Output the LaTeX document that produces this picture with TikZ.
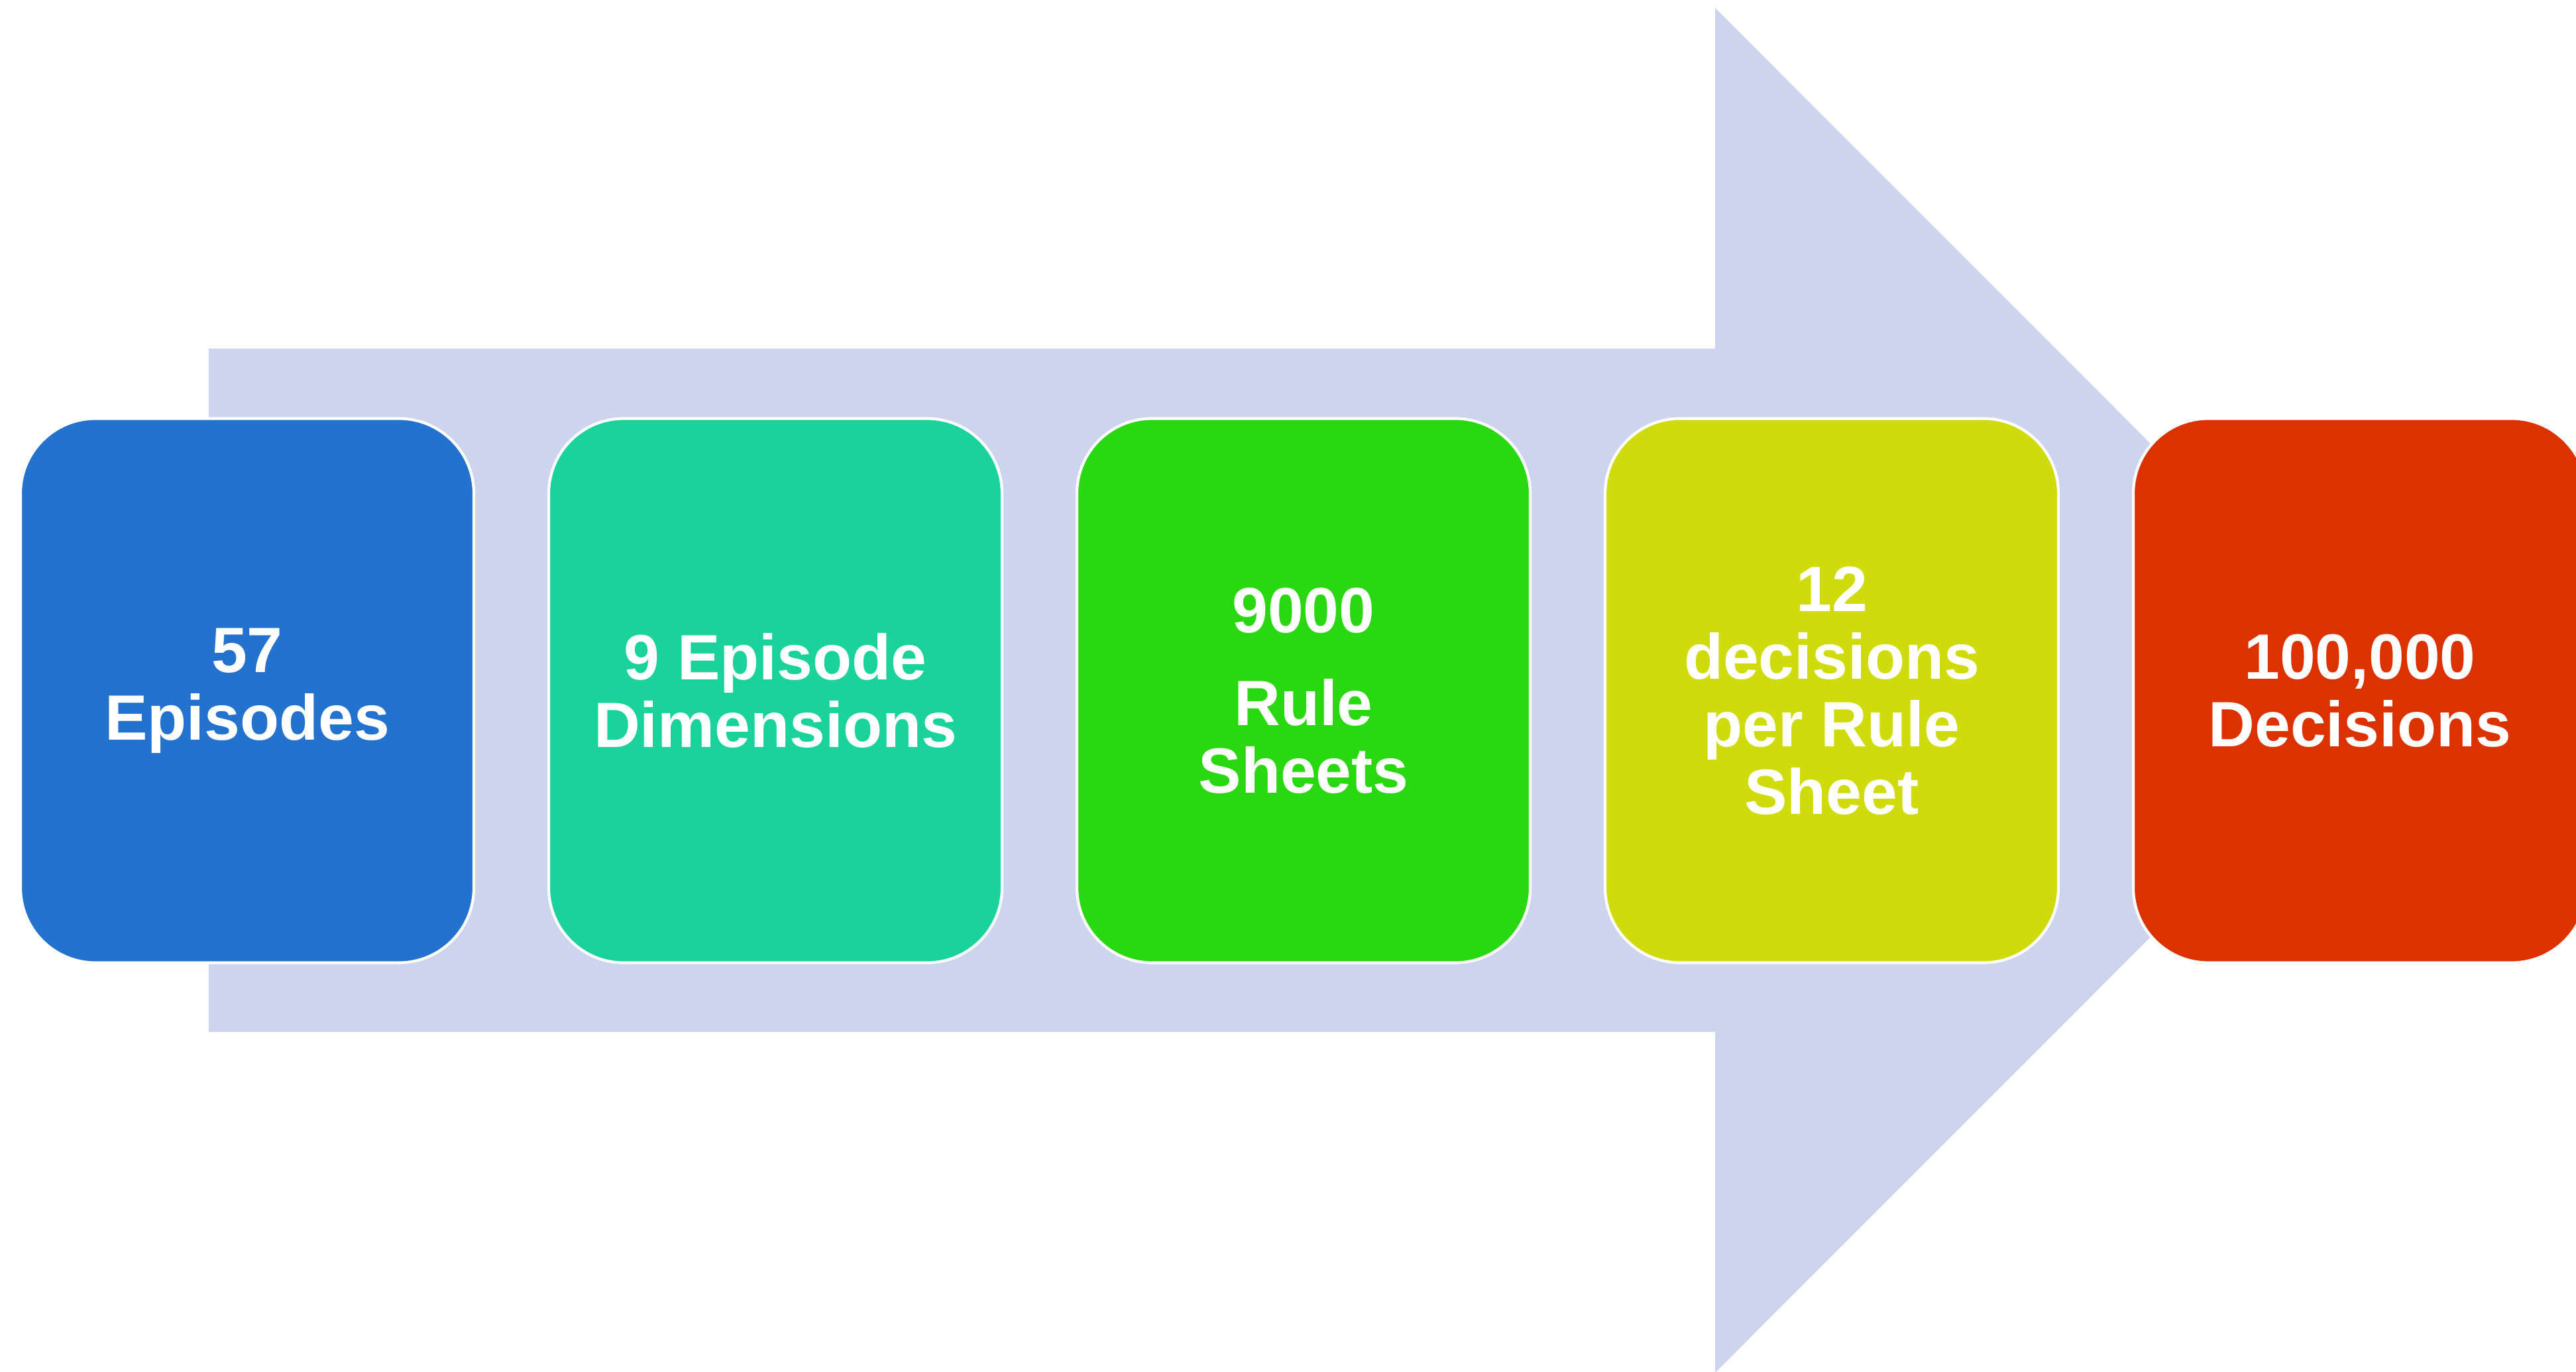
\documentclass[tikz,border=0pt]{standalone}
\usepackage{fontspec}
\setmainfont{Liberation Sans}
\definecolor{arrowfill}{RGB}{205,213,238}
\definecolor{stageA}{RGB}{34,114,206}
\definecolor{stageB}{RGB}{25,211,155}
\definecolor{stageC}{RGB}{42,216,18}
\definecolor{stageD}{RGB}{207,219,10}
\definecolor{stageE}{RGB}{220,50,0}
\tikzset{stage/.style={draw=white, line width=1.2pt, rounded corners=1.13cm, minimum width=6.84cm, minimum height=8.21cm, align=center, text=white, font=\bfseries\fontsize{27.5}{29}\selectfont}}
\begin{document}
\begin{tikzpicture}
\useasboundingbox (0,0) rectangle (38.87,20.69);
\fill[arrowfill] (3.15,15.43) -- (25.88,15.43) -- (25.88,20.57) -- (36.17,10.275) -- (25.88,-0.02) -- (25.88,5.12) -- (3.15,5.12) -- cycle;

\node[stage, fill=stageA] (episodes) at (3.73,10.27) {57\\Episodes};
\node[stage, fill=stageB] (dims) at (11.70,10.27) {9 Episode\\Dimensions};
\node[stage, fill=stageC] (sheets) at (19.67,10.27) {9000\\[11pt]Rule\\Sheets};
\node[stage, fill=stageD] (persheet) at (27.64,10.27) {12\\decisions\\per Rule\\Sheet};
\node[stage, fill=stageE] (decisions) at (35.61,10.27) {100,000\\Decisions};
\end{tikzpicture}
\end{document}
